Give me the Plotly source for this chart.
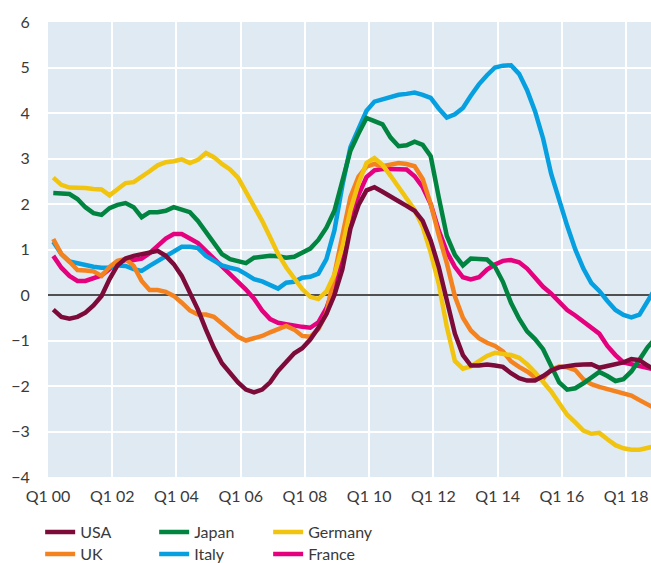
import pandas as pd
import plotly.graph_objects as go

# Quarterly observations, Mar 2000 .. Dec 2018
quarters = pd.date_range("2000-03-01", periods=76, freq="3MS")

usa = [-0.32,-0.48,-0.52,-0.48,-0.39,-0.23,-0.02,0.35,0.65,0.80,
       0.86,0.90,0.92,0.97,0.86,0.68,0.42,0.05,-0.32,-0.76,
       -1.16,-1.50,-1.72,-1.92,-2.08,-2.14,-2.08,-1.92,-1.67,-1.46,
       -1.28,-1.17,-0.98,-0.72,-0.42,0.00,0.56,1.46,1.98,2.30,
       2.37,2.27,2.15,2.06,1.96,1.85,1.63,1.20,0.62,-0.15,
       -0.85,-1.32,-1.55,-1.55,-1.53,-1.55,-1.58,-1.72,-1.83,-1.88,
       -1.88,-1.78,-1.66,-1.59,-1.56,-1.54,-1.53,-1.52,-1.60,-1.56,
       -1.51,-1.48,-1.41,-1.43,-1.55,-1.65]

uk = [1.23,0.90,0.73,0.55,0.54,0.52,0.42,0.62,0.75,0.79,
      0.64,0.31,0.11,0.11,0.07,-0.02,-0.17,-0.34,-0.43,-0.43,
      -0.48,-0.63,-0.76,-0.92,-1.00,-0.96,-0.90,-0.82,-0.75,-0.68,
      -0.76,-0.90,-0.92,-0.75,-0.40,0.40,1.30,2.15,2.60,2.82,
      2.88,2.83,2.86,2.90,2.88,2.83,2.55,2.00,1.32,0.70,
      -0.03,-0.50,-0.78,-0.95,-1.05,-1.12,-1.24,-1.46,-1.58,-1.68,
      -1.81,-1.83,-1.64,-1.57,-1.59,-1.65,-1.85,-1.96,-2.02,-2.07,
      -2.12,-2.17,-2.21,-2.31,-2.42,-2.50]

japan = [2.24,2.22,2.22,2.11,1.93,1.80,1.76,1.91,1.98,2.02,
         1.93,1.71,1.82,1.82,1.85,1.93,1.87,1.82,1.63,1.38,
         1.12,0.90,0.79,0.75,0.70,0.82,0.85,0.86,0.85,0.82,
         0.84,0.94,1.02,1.21,1.48,1.85,2.52,3.17,3.55,3.89,
         3.82,3.75,3.46,3.27,3.29,3.37,3.30,3.05,2.15,1.30,
         0.88,0.65,0.80,0.80,0.78,0.62,0.29,-0.17,-0.52,-0.80,
         -0.97,-1.19,-1.55,-1.92,-2.08,-2.05,-1.94,-1.82,-1.69,-1.78,
         -1.89,-1.85,-1.68,-1.42,-1.15,-0.95]

italy = [1.17,0.90,0.74,0.70,0.65,0.62,0.60,0.60,0.65,0.64,
         0.57,0.53,0.64,0.75,0.86,0.97,1.06,1.06,1.03,0.86,
         0.75,0.65,0.60,0.56,0.46,0.35,0.30,0.23,0.14,0.27,
         0.29,0.38,0.40,0.47,0.79,1.42,2.40,3.25,3.68,4.05,
         4.25,4.30,4.36,4.40,4.42,4.45,4.40,4.33,4.10,3.90,
         3.97,4.11,4.38,4.63,4.83,5.00,5.04,5.05,4.86,4.50,
         4.04,3.44,2.66,2.05,1.52,1.00,0.58,0.26,0.09,-0.13,
         -0.33,-0.44,-0.49,-0.43,-0.16,0.15]

germany = [2.58,2.42,2.36,2.36,2.35,2.33,2.32,2.19,2.32,2.46,
           2.48,2.59,2.72,2.85,2.92,2.94,2.98,2.90,2.97,3.12,
           3.03,2.88,2.76,2.58,2.27,1.98,1.63,1.27,0.90,0.61,
           0.38,0.13,-0.04,-0.09,0.08,0.45,1.05,1.86,2.45,2.90,
           3.01,2.86,2.62,2.38,2.12,1.87,1.50,0.93,0.25,-0.70,
           -1.45,-1.62,-1.57,-1.46,-1.34,-1.27,-1.29,-1.32,-1.38,-1.52,
           -1.70,-1.92,-2.12,-2.38,-2.63,-2.80,-2.98,-3.05,-3.03,-3.17,
           -3.30,-3.37,-3.40,-3.40,-3.36,-3.32]

france = [0.86,0.60,0.42,0.31,0.31,0.36,0.43,0.57,0.71,0.77,
          0.77,0.80,0.92,1.08,1.24,1.34,1.34,1.24,1.14,0.97,
          0.80,0.64,0.48,0.31,0.12,-0.08,-0.34,-0.53,-0.61,-0.64,
          -0.68,-0.70,-0.72,-0.60,-0.29,0.20,0.95,1.63,2.20,2.59,
          2.74,2.77,2.77,2.77,2.76,2.61,2.37,2.00,1.42,0.95,
          0.62,0.39,0.34,0.39,0.56,0.67,0.75,0.77,0.72,0.58,
          0.38,0.18,0.03,-0.15,-0.33,-0.45,-0.59,-0.72,-0.85,-1.12,
          -1.32,-1.48,-1.52,-1.54,-1.59,-1.64]

tick_dates = ["2000-01-01","2002-01-01","2004-01-01","2006-01-01","2008-01-01",
              "2010-01-01","2012-01-01","2014-01-01","2016-01-01","2018-01-01"]
tick_labels = ["Q1 00","Q1 02","Q1 04","Q1 06","Q1 08",
               "Q1 10","Q1 12","Q1 14","Q1 16","Q1 18"]
y_ticks = [-4,-3,-2,-1,0,1,2,3,4,5,6]

FONT = "Lato"
TXT = "#3a3a3a"

# (name, values, colour, legend, rank) ; drawn bottom -> top
series = [
    ("France",  france,  "#e5007d", "legend2", 3),
    ("Italy",   italy,   "#069fe0", "legend2", 2),
    ("UK",      uk,      "#f4821f", "legend2", 1),
    ("Japan",   japan,   "#00843f", "legend",  2),
    ("Germany", germany, "#f1c40f", "legend",  3),
    ("USA",     usa,     "#7d0b3a", "legend",  1),
]

fig = go.Figure()
for name, vals, col, leg, rank in series:
    fig.add_trace(go.Scatter(
        x=quarters, y=vals, mode="lines", name=name,
        line=dict(color=col, width=4.5),
        legend=leg, legendrank=rank, hoverinfo="skip"))

legend_common = dict(orientation="h", xanchor="left", yanchor="top",
                     x=-0.013, entrywidth=69, entrywidthmode="pixels",
                     font=dict(family=FONT, size=16, color=TXT),
                     bgcolor="rgba(0,0,0,0)", itemwidth=30,
                     traceorder="normal")

fig.update_layout(
    width=651, height=563,
    margin=dict(l=48, r=0, t=22, b=86, autoexpand=False),
    paper_bgcolor="white",
    plot_bgcolor="#e0eaf3",
    font=dict(family=FONT, size=16, color=TXT),
    showlegend=True,
    legend=dict(**legend_common, y=-0.084),
    legend2=dict(**legend_common, y=-0.132),
    xaxis=dict(type="date", range=["2000-01-01", "2018-10-10"],
               tickvals=tick_dates, ticktext=tick_labels,
               showgrid=True, gridcolor="white", gridwidth=1.5,
               ticks="outside", ticklen=5, tickcolor="rgba(0,0,0,0)",
               showline=False, zeroline=False,
               tickfont=dict(family=FONT, size=16, color=TXT)),
    yaxis=dict(range=[-4, 6], tickvals=y_ticks,
               showgrid=True, gridcolor="white", gridwidth=1.5,
               zeroline=True, zerolinecolor="#505050", zerolinewidth=1.5,
               ticks="outside", ticklen=14, tickcolor="rgba(0,0,0,0)",
               showline=False,
               tickfont=dict(family=FONT, size=16, color=TXT)),
)

fig.write_html(
    "out.html",
    config={"displayModeBar": False},
    post_script="document.body.style.margin='0';document.body.style.overflow='hidden';",
)
